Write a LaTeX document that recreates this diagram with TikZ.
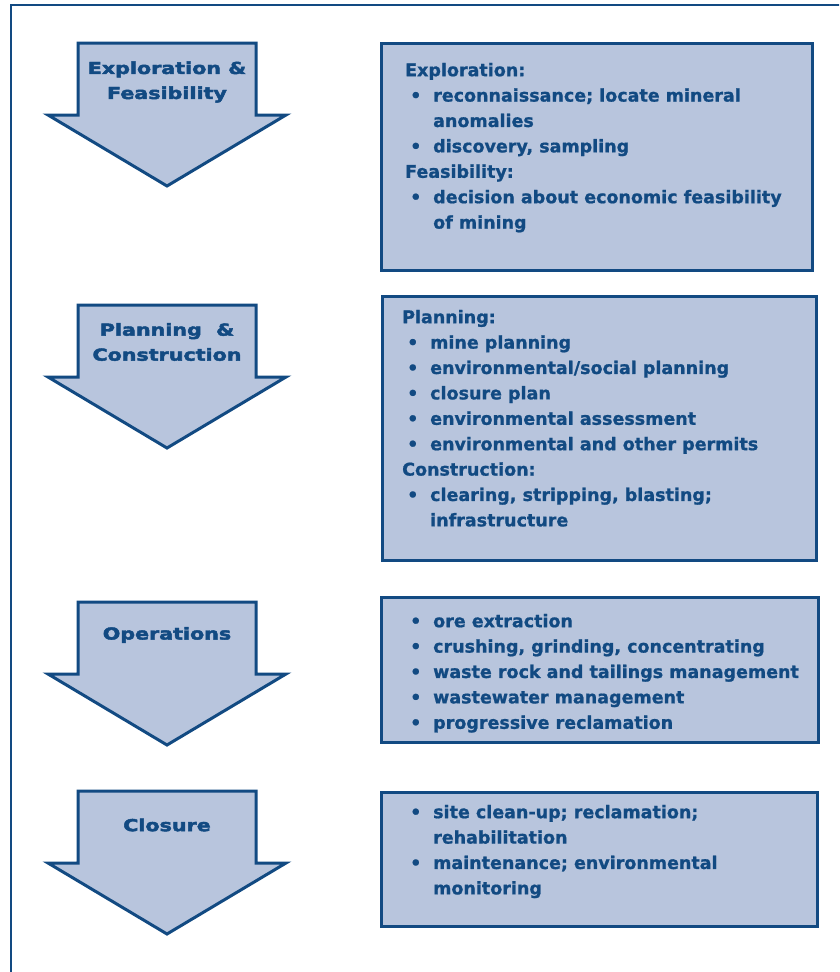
\documentclass[tikz,border=0pt]{standalone}
\usepackage{fontspec}
\setmainfont{DejaVu Sans}[BoldFeatures={FakeBold=1}]
\newfontfamily\labelfont{DejaVu Sans}[BoldFeatures={FakeBold=2.5}]
\definecolor{minefill}{RGB}{184,197,221}
\definecolor{mineline}{RGB}{18,74,130}
\newcommand{\bul}{\makebox[28pt][l]{\hspace{5pt}\textbullet}}
\newcommand{\cont}{\hspace*{28pt}}
% one stage arrow, top edge at y = #1
\newcommand{\stagearrow}[1]{%
  \draw[arrowshape] (78,#1) -- (256,#1) -- (256,#1+72) -- (286,#1+72)
    -- (167,#1+143) -- (48,#1+72) -- (78,#1+72) -- cycle;}
\tikzset{
  arrowshape/.style={draw=mineline,fill=minefill,line width=3pt,line join=miter},
  stagebox/.style={draw=mineline,fill=minefill,line width=3pt},
  stagelabel/.style={text=mineline,align=center,inner sep=0pt,
    xscale=1.25,transform shape,
    font=\labelfont\bfseries\fontsize{16.5}{25}\selectfont},
  boxtext/.style={text=mineline,align=left,anchor=north west,inner sep=0pt,
    font=\bfseries\fontsize{17.5}{25.4}\selectfont}
}
\begin{document}
\begin{tikzpicture}[x=1pt,y=-1pt]
\useasboundingbox (0,0) rectangle (839,972);
\begin{scope}
\clip (0,0) rectangle (839,972);
\draw[mineline,line width=2.5pt] (11,990) -- (11,5) -- (860,5);
\end{scope}

% arrows on the left
\stagearrow{43}
\stagearrow{305}
\stagearrow{602}
\stagearrow{791}
\node[stagelabel] (expl) at (167,82) {Exploration \&\\Feasibility};
\node[stagelabel] (plan) at (167,342) {Planning \ \&\\Construction};
\node[stagelabel] (oper) at (167,635) {Operations};
\node[stagelabel] (clos) at (167,825) {Closure};

% boxes on the right
\draw[stagebox] (381,43) rectangle (812,270);
\node[boxtext] (explbox) at (405,58.2) {\strut Exploration:\\
  \bul reconnaissance; locate mineral\\
  \cont anomalies\\
  \bul discovery, sampling\\
  Feasibility:\\
  \bul decision about economic feasibility\\
  \cont of mining};

\draw[stagebox] (382,296) rectangle (816,560);
\node[boxtext] (planbox) at (402,305.2) {\strut Planning:\\
  \bul mine planning\\
  \bul environmental/social planning\\
  \bul closure plan\\
  \bul environmental assessment\\
  \bul environmental and other permits\\
  Construction:\\
  \bul clearing, stripping, blasting;\\
  \cont infrastructure};

\draw[stagebox] (381,597) rectangle (818,742);
\node[boxtext] (operbox) at (405,609.2) {\strut\bul ore extraction\\
  \bul crushing, grinding, concentrating\\
  \bul waste rock and tailings management\\
  \bul wastewater management\\
  \bul progressive reclamation};

\draw[stagebox] (381,792) rectangle (817,926);
\node[boxtext] (closbox) at (405,800.2) {\strut\bul site clean-up; reclamation;\\
  \cont rehabilitation\\
  \bul maintenance; environmental\\
  \cont monitoring};
\end{tikzpicture}
\end{document}
